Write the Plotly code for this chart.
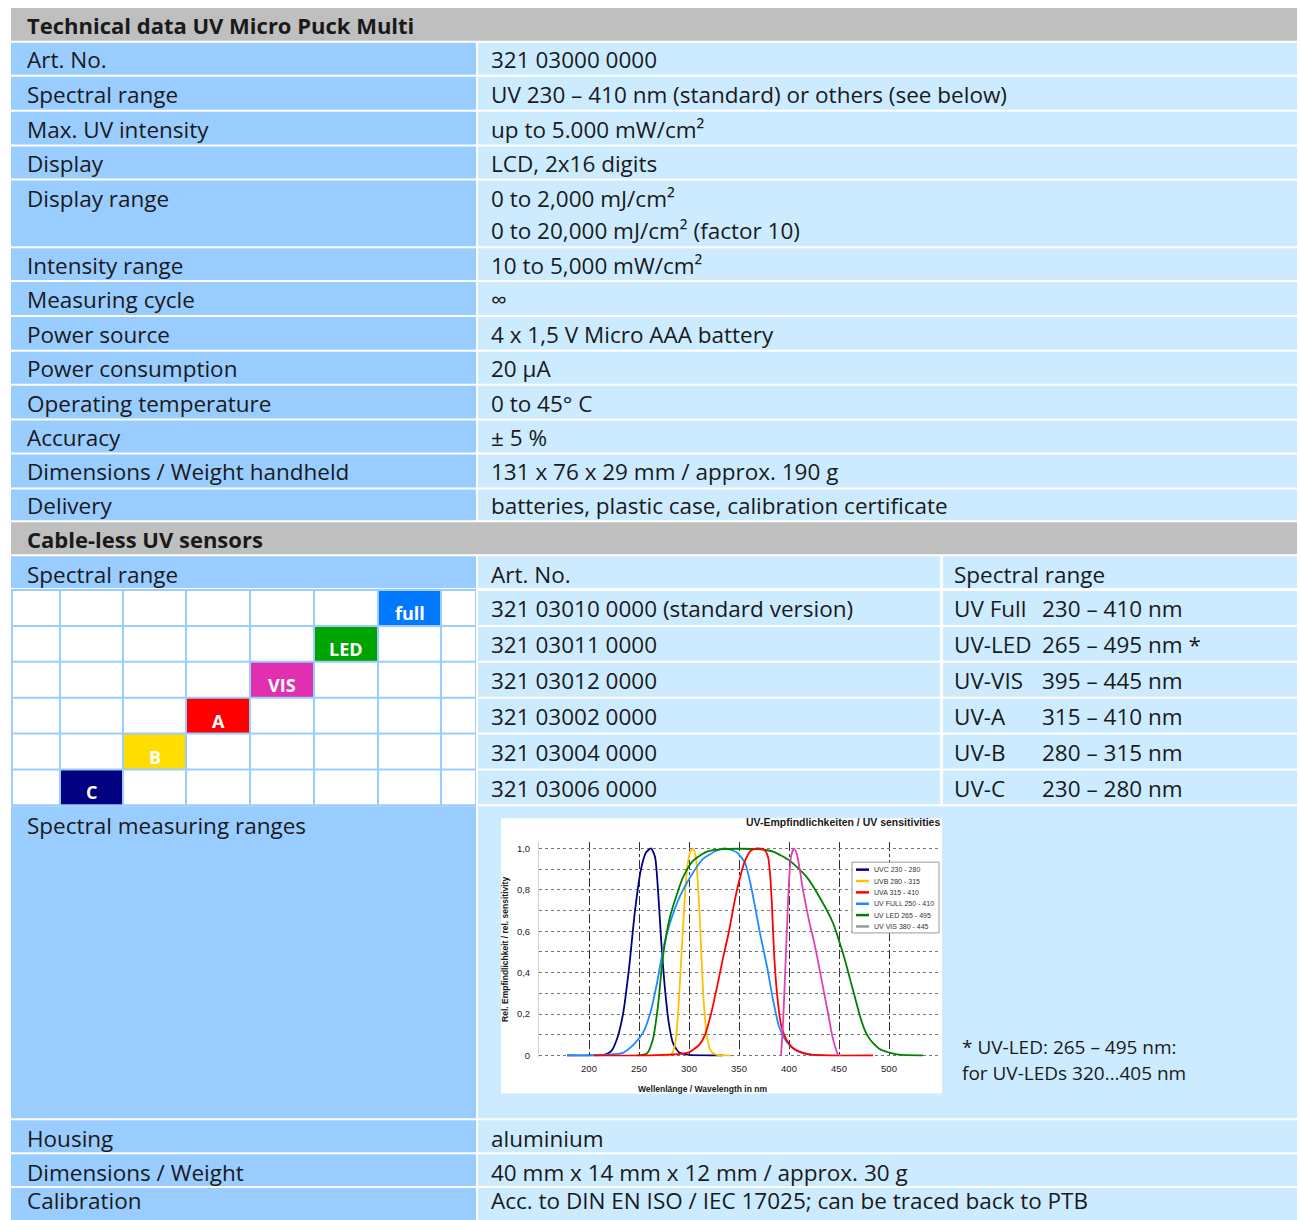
import plotly.graph_objects as go

W, H = 1300, 1220
FONT = "'Open Sans', sans-serif"
FS = 22.5
CHART_FONT = "'Liberation Sans', Arial, sans-serif"
TXT = "#1a1a1a"
C_HEAD = "#BFBFBF"
C_LAB = "#99CCFF"
C_VAL = "#CCEBFF"

# ---------------- data ----------------
title_main = "Technical data UV Micro Puck Multi"
spec_labels = ["Art. No.", "Spectral range", "Max. UV intensity", "Display", "Display range",
               "Intensity range", "Measuring cycle", "Power source", "Power consumption",
               "Operating temperature", "Accuracy", "Dimensions / Weight handheld", "Delivery"]
spec_values = [["321 03000 0000"],
               ["UV 230 – 410 nm (standard) or others (see below)"],
               ["up to 5.000 mW/cm²"],
               ["LCD, 2x16 digits"],
               ["0 to 2,000 mJ/cm²", "0 to 20,000 mJ/cm² (factor 10)"],
               ["10 to 5,000 mW/cm²"],
               ["∞"],
               ["4 x 1,5 V Micro AAA battery"],
               ["20 µA"],
               ["0 to 45° C"],
               ["± 5 %"],
               ["131 x 76 x 29 mm / approx. 190 g"],
               ["batteries, plastic case, calibration certificate"]]

title_sensors = "Cable-less UV sensors"
sensor_head = ["Spectral range", "Art. No.", "Spectral range"]
sensor_codes = ["full", "LED", "VIS", "A", "B", "C"]
sensor_colors = ["#0078FF", "#00A400", "#E030B0", "#FF0000", "#FFDD00", "#000080"]
sensor_art = ["321 03010 0000 (standard version)", "321 03011 0000", "321 03012 0000",
              "321 03002 0000", "321 03004 0000", "321 03006 0000"]
sensor_prefix = ["UV Full", "UV-LED", "UV-VIS", "UV-A", "UV-B", "UV-C"]
sensor_range = ["230 – 410 nm", "265 – 495 nm *", "395 – 445 nm", "315 – 410 nm",
                "280 – 315 nm", "230 – 280 nm"]

ranges_label = "Spectral measuring ranges"
footnote = ["* UV-LED: 265 – 495 nm:", "for UV-LEDs 320…405 nm"]

lower_labels = ["Housing", "Dimensions / Weight", "Calibration"]
lower_values = ["aluminium", "40 mm x 14 mm x 12 mm / approx. 30 g",
                "Acc. to DIN EN ISO / IEC 17025; can be traced back to PTB"]

chart_title = "UV-Empfindlichkeiten / UV sensitivities"
chart_xtitle = "Wellenlänge / Wavelength in nm"
chart_ytitle = "Rel. Empfindlichkeit / rel. sensitivity"
x_ticks = [200, 250, 300, 350, 400, 450, 500, 550]
x_ticktext = ["200", "250", "300", "350", "400", "450", "500", ""]
y_ticks = [0, 0.2, 0.4, 0.6, 0.8, 1.0]
y_ticktext = ["0", "0,2", "0,4", "0,6", "0,8", "1,0"]

legend_names = ["UVC 230 - 280", "UVB 280 - 315", "UVA 315 - 410", "UV FULL 250 - 410",
                "UV LED 265 - 495", "UV VIS 380 - 445"]

wl_uvc = [178, 200, 215, 222, 228, 234, 240, 246, 252, 257, 262, 266, 269, 272, 276, 280, 284, 290, 300, 320, 334]
rs_uvc = [0, 0, 0.003, 0.02, 0.08, 0.2, 0.42, 0.70, 0.90, 0.98, 1.0, 0.96, 0.80, 0.57, 0.32, 0.15, 0.06, 0.015, 0.003, 0, 0]

wl_uvb = [270, 282, 286, 289, 292, 295, 298, 301, 304, 307, 309, 311, 313, 315, 318, 322, 328, 342]
rs_uvb = [0, 0.005, 0.05, 0.2, 0.45, 0.70, 0.9, 0.98, 1.0, 0.95, 0.82, 0.64, 0.42, 0.24, 0.09, 0.02, 0.003, 0]

wl_uva = [205, 260, 285, 300, 310, 316, 322, 328, 334, 340, 345, 350, 356, 362, 368, 375, 379, 381, 383, 385, 388, 392, 397, 403, 410, 420, 440, 484]
rs_uva = [0, 0, 0.005, 0.015, 0.05, 0.10, 0.2, 0.33, 0.47, 0.60, 0.73, 0.84, 0.94, 0.99, 1.0, 0.995, 0.96, 0.88, 0.72, 0.5, 0.3, 0.15, 0.08, 0.04, 0.02, 0.005, 0, 0]

wl_full = [178, 215, 234, 244, 254, 261, 268, 274, 281, 291, 301, 314, 328, 336, 348, 356, 361, 366, 371, 378, 384, 390, 397, 405, 415, 425, 434]
rs_full = [0, 0.003, 0.013, 0.05, 0.11, 0.2, 0.35, 0.51, 0.64, 0.77, 0.86, 0.95, 0.99, 1.0, 0.98, 0.93, 0.84, 0.72, 0.59, 0.43, 0.27, 0.14, 0.07, 0.03, 0.01, 0.002, 0]

wl_led = [248, 258, 264, 269, 274, 281, 288, 294, 304, 318, 334, 368, 384, 401, 418, 434, 444, 451, 456, 461, 466, 471, 476, 481, 491, 508, 534]
rs_led = [0, 0.01, 0.08, 0.24, 0.48, 0.67, 0.78, 0.86, 0.94, 0.985, 0.997, 0.997, 0.985, 0.94, 0.86, 0.735, 0.64, 0.54, 0.46, 0.37, 0.28, 0.19, 0.12, 0.077, 0.03, 0.005, 0]

wl_vis = [392, 394, 396, 398, 400, 402, 405, 408, 411, 414, 418, 421, 425, 428, 432, 436, 440, 443, 446, 449, 452]
rs_vis = [0, 0.15, 0.38, 0.62, 0.84, 0.96, 1.0, 0.97, 0.89, 0.8, 0.7, 0.63, 0.55, 0.48, 0.38, 0.28, 0.18, 0.1, 0.045, 0.005, 0]

curve_colors = ["#000080", "#FFC000", "#FF0000", "#1E8CFF", "#008000", "#E040B0"]
legend_colors = ["#000080", "#FFC000", "#FF0000", "#1E8CFF", "#008000", "#999999"]

# ---------------- layout helpers ----------------
shapes, annos = [], []


def px(x):
    return x / W


def py(y):
    return 1 - y / H


def rect(x0, y0, x1, y1, color, line=None, layer="below"):
    d = dict(type="rect", xref="paper", yref="paper", x0=px(x0), x1=px(x1),
             y0=py(y1), y1=py(y0), fillcolor=color, layer=layer)
    if line:
        d["line"] = dict(color=line, width=1)
    else:
        d["line_width"] = 0
    shapes.append(d)


def hline(x0, x1, y, color, width=2.5):
    shapes.append(dict(type="line", xref="paper", yref="paper", x0=px(x0), x1=px(x1),
                       y0=py(y), y1=py(y), line=dict(color=color, width=width), layer="above"))


def text(x, y, s, size=FS, bold=False, color=TXT, xanchor="left", family=FONT, angle=0):
    if bold:
        s = "<b>" + s + "</b>"
    annos.append(dict(xref="paper", yref="paper", x=px(x), y=py(y), text=s, showarrow=False,
                      xanchor=xanchor, yanchor="middle", textangle=angle,
                      font=dict(family=family, size=size, color=color)))


L0, L1, R0, R1, R2, RE = 11, 476, 478, 940, 943, 1297
TX_L, TX_R, TX_R2 = 25, 489, 952

# header 1
rect(L0, 8, RE, 41, C_HEAD)
text(TX_L, 25, title_main, bold=True, size=FS - 0.5)

# main rows
row_tops = [43, 77, 112, 147, 181, 249, 283, 318, 353, 387, 422, 456, 491]
row_bots = [75, 110, 145, 179, 247, 281, 316, 351, 385, 420, 454, 489, 522]
for i, lab in enumerate(spec_labels):
    t, b = row_tops[i], row_bots[i]
    rect(L0, t, L1, b, C_LAB)
    rect(R0, t, RE, b, C_VAL)
    vals = spec_values[i]
    if len(vals) == 1:
        c = (t + b) / 2 + 1
        text(TX_L, c, lab)
        text(TX_R, c, vals[0])
    else:
        text(TX_L, t + 18, lab)
        for k, v in enumerate(vals):
            text(TX_R, t + 18 + 32 * k, v)

# header 2
rect(L0, 524, RE, 556, C_HEAD)
text(TX_L, 541, title_sensors, bold=True, size=FS - 0.5)

# sensor sub-header
rect(L0, 558, L1, 590, C_LAB)
rect(R0, 558, R1, 590, C_VAL)
rect(R2, 558, RE, 590, C_VAL)
text(TX_L, 576, sensor_head[0])
text(TX_R, 576, sensor_head[1])
text(TX_R2, 576, sensor_head[2])

# colour grid
grid_x = [11, 61, 124, 187, 251, 315, 379, 442, 475]
grid_top = [593, 629, 665, 701, 737, 773]
grid_bot = [627, 663, 699, 735, 771, 807]
rect(L0, 591, L1, 809, C_LAB)
n_cols = len(grid_x) - 1
for r in range(len(sensor_codes)):
    col_hi = n_cols - 2 - r
    for cidx in range(n_cols):
        x0 = grid_x[cidx]
        x1 = grid_x[cidx + 1] - 2
        if cidx == 0:
            x0 = 13
        if cidx == n_cols - 1:
            x1 = 475
        color = sensor_colors[r] if cidx == col_hi else "#FFFFFF"
        rect(x0, grid_top[r], x1, grid_bot[r], color)
        if cidx == col_hi:
            text((x0 + x1) / 2, grid_top[r] + 22, sensor_codes[r], size=18, bold=True,
                 color="#FFFFFF", xanchor="center")
    rect(R0, grid_top[r], R1, grid_bot[r], C_VAL)
    rect(R2, grid_top[r], RE, grid_bot[r], C_VAL)
    c = (grid_top[r] + grid_bot[r]) / 2 + 1
    text(TX_R, c, sensor_art[r])
    text(TX_R2, c, sensor_prefix[r])
    text(1040, c, sensor_range[r])

# spectral measuring ranges block
rect(L0, 809, L1, 1122, C_LAB)
rect(R0, 809, RE, 1122, C_VAL)
text(TX_L, 828, ranges_label)
rect(501, 821, 942, 1097, "#FFFFFF")
text(960, 1050, footnote[0], size=FS - 3.5)
text(960, 1077, footnote[1], size=FS - 3.5)

# chart text
text(942, 825, chart_title, size=10.5, bold=True, family=CHART_FONT, xanchor="right")
text(702, 1093, chart_xtitle, size=8.5, bold=True, family=CHART_FONT, xanchor="center")
text(505, 953, chart_ytitle, size=8.5, bold=True, family=CHART_FONT, xanchor="center", angle=-90)

# legend key box (on top of the gridlines)
rect(852, 865, 939, 936, "#FFFFFF", line="#9a9a9a", layer="above")
for k, nm in enumerate(legend_names):
    yy = 872.5 + 11.4 * k
    hline(856, 869, yy, legend_colors[k])
    text(872, yy, nm, size=7, family=CHART_FONT, color="#333")

# lower rows
low_tops = [1124, 1158, 1192]
low_bots = [1156, 1190, 1230]
low_text_y = [1142, 1176, 1204]
for i, lab in enumerate(lower_labels):
    t, b = low_tops[i], low_bots[i]
    rect(L0, t, L1, b, C_LAB)
    rect(R0, t, RE, b, C_VAL)
    c = low_text_y[i]
    text(TX_L, c, lab)
    text(TX_R, c, lower_values[i])

# ---------------- traces ----------------
fig = go.Figure()
series = [(wl_uvc, rs_uvc, 0), (wl_uvb, rs_uvb, 1), (wl_full, rs_full, 3), (wl_led, rs_led, 4),
          (wl_uva, rs_uva, 2), (wl_vis, rs_vis, 5)]
for xs, ys, k in series:
    fig.add_trace(go.Scatter(x=xs, y=ys, mode="lines", name=legend_names[k],
                             line=dict(color=curve_colors[k], width=1.8, shape="spline", smoothing=0.6),
                             showlegend=False))

fig.update_layout(
    width=W, height=H, margin=dict(l=0, r=0, t=0, b=0),
    paper_bgcolor="#FFFFFF", plot_bgcolor="rgba(0,0,0,0)",
    shapes=shapes, annotations=annos, showlegend=False,
    xaxis=dict(domain=[px(539), px(940)], range=[150, 551], tickvals=x_ticks, ticktext=x_ticktext,
               showgrid=True, gridcolor="#333333", griddash="dashdot", gridwidth=1,
               zeroline=False, showline=False, ticks="", ticklabelstandoff=5,
               tickfont=dict(family=CHART_FONT, size=9.5, color="#222")),
    yaxis=dict(domain=[py(1060), py(845)], range=[-0.005, 1.03], tickvals=y_ticks, ticktext=y_ticktext,
               showgrid=True, gridcolor="#777777", griddash="dot", gridwidth=1,
               minor=dict(tickvals=[0.1, 0.3, 0.5, 0.7, 0.9], showgrid=True, gridcolor="#777777",
                          griddash="dot", gridwidth=1),
               zeroline=False, showline=True, linecolor="#d0d0d0", linewidth=1, ticks="",
               ticklabelstandoff=6, tickfont=dict(family=CHART_FONT, size=9.5, color="#222")),
)

fig.write_html("out.html", config={"displayModeBar": False},
               post_script="document.body.style.margin='0';")
